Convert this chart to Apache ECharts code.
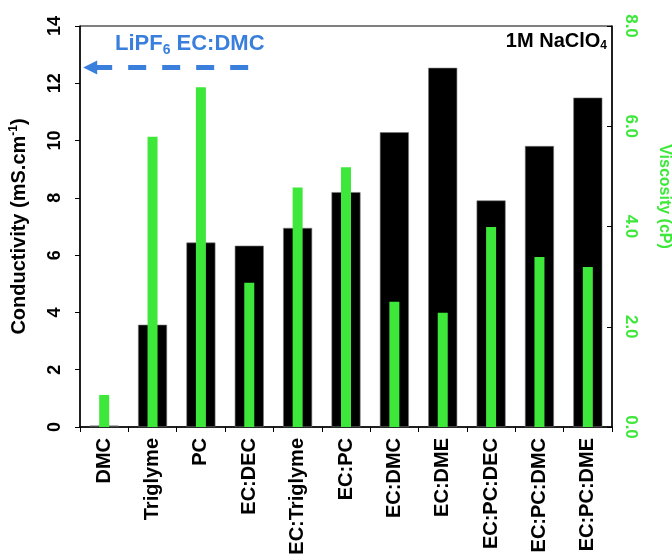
<!DOCTYPE html>
<html>
<head>
<meta charset="utf-8">
<script src="https://cdn.jsdelivr.net/npm/echarts@6/dist/echarts.min.js"></script>
<style>
  html, body { margin: 0; padding: 0; background: #fff; }
  #chart { width: 672px; height: 559px; }
</style>
</head>
<body>
<div id="chart"></div>
<script>
// solvents
const categories = ["DMC", "Triglyme", "PC", "EC:DEC", "EC:Triglyme", "EC:PC",
  "EC:DMC", "EC:DME", "EC:PC:DEC", "EC:PC:DMC", "EC:PC:DME"];
// conductivity, mS/cm (left axis)
const conductivity = [0.05, 3.57, 6.44, 6.33, 6.95, 8.2, 10.29, 12.54, 7.91, 9.81, 11.5];
// viscosity, cP (right axis)
const viscosity = [0.64, 5.79, 6.78, 2.88, 4.78, 5.18, 2.5, 2.28, 3.99, 3.39, 3.19];
// LiPF6 EC:DMC reference conductivity
const refConductivity = 12.55;

const font = "Liberation Sans, Arial, sans-serif";
const green = "#3de83a";
const blue = "#3a7fdc";

const chart = echarts.init(document.getElementById("chart"));

const option = {
  animation: false,
  textStyle: { fontFamily: font },
  grid: {
    left: 80, right: 60, top: 26, bottom: 132,
    outerBoundsMode: "none",
    containLabel: false,
    show: true, borderColor: "#000", borderWidth: 1
  },
  xAxis: [
    {
      type: "category",
      data: categories,
      axisLine: { lineStyle: { color: "#000", width: 1.5 } },
      axisTick: { show: true, length: 5, lineStyle: { color: "#000" } },
      axisLabel: {
        rotate: 90, color: "#000", fontWeight: "bold", fontSize: 20,
        fontFamily: font, margin: 11, interval: 0
      }
    },
    {
      // hidden twin so the narrow bars sit centred over the wide ones
      type: "category",
      data: categories,
      show: false
    }
  ],
  yAxis: [
    {
      type: "value", min: 0, max: 14, interval: 2,
      name: "Conductivity (mS.cm{sup|-1})",
      nameLocation: "middle", nameGap: 50, nameRotate: 90,
      nameTextStyle: {
        color: "#000", fontWeight: "bold", fontSize: 20, fontFamily: font,
        rich: { sup: { fontSize: 12, fontWeight: "bold", verticalAlign: "top", padding: [0, 0, 10, 0] } }
      },
      splitLine: { show: false },
      axisLine: { show: true, lineStyle: { color: "#000", width: 1.5 } },
      axisTick: { show: true, length: 5, lineStyle: { color: "#000" } },
      axisLabel: { rotate: 90, color: "#000", fontWeight: "bold", fontSize: 18, fontFamily: font, margin: 16 }
    },
    {
      type: "value", min: 0, max: 8, interval: 2,
      name: "Viscosity (cP)",
      nameLocation: "middle", nameGap: 44, nameRotate: -90,
      nameTextStyle: {
        color: green, fontWeight: "bold", fontSize: 16, fontFamily: font,
        padding: [0, 60, 0, 0]
      },
      splitLine: { show: false },
      axisLine: { show: true, lineStyle: { color: "#000", width: 1.5 } },
      axisTick: { show: true, inside: true, length: 5, lineStyle: { color: "#000" } },
      axisLabel: {
        rotate: -90, color: green, fontWeight: "bold", fontSize: 17, fontFamily: font, margin: 10,
        formatter: v => v.toFixed(1)
      }
    }
  ],
  series: [
    {
      name: "Conductivity",
      type: "bar",
      xAxisIndex: 0,
      yAxisIndex: 0,
      data: conductivity,
      barWidth: 29,
      itemStyle: { color: "#000", borderColor: "#777", borderWidth: 0.6 }
    },
    {
      name: "Viscosity",
      type: "bar",
      xAxisIndex: 1,
      yAxisIndex: 1,
      data: viscosity,
      barWidth: 10,
      z: 3,
      itemStyle: { color: green }
    }
  ]
};

chart.setOption(option);

// annotations: reference arrow + labels
const refY = chart.convertToPixel({ yAxisIndex: 0 }, refConductivity);
const axisX = chart.convertToPixel({ xAxisIndex: 0 }, 0) - 24;
chart.setOption({
  graphic: [
    {
      type: "line",
      shape: { x1: axisX + 14, y1: refY, x2: axisX + 170, y2: refY },
      style: { stroke: blue, lineWidth: 5, lineDash: [18, 16] }
    },
    {
      type: "polygon",
      shape: { points: [[axisX + 3, refY], [axisX + 17, refY - 7], [axisX + 17, refY + 7]] },
      style: { fill: blue }
    },
    {
      type: "text",
      left: 115, top: 33,
      style: {
        text: "LiPF{sub|6} EC:DMC",
        fill: blue, font: "bold 22px " + font,
        rich: { sub: { fontSize: 14, fontWeight: "bold", fill: blue, padding: [12, 0, 0, 0] } }
      }
    },
    {
      type: "text",
      right: 65, top: 31,
      style: {
        text: "1M NaClO{sub|4}",
        fill: "#000", font: "bold 20px " + font,
        rich: { sub: { fontSize: 12, fontWeight: "bold", fill: "#000", padding: [10, 0, 0, 0] } }
      }
    }
  ]
});
</script>
</body>
</html>
